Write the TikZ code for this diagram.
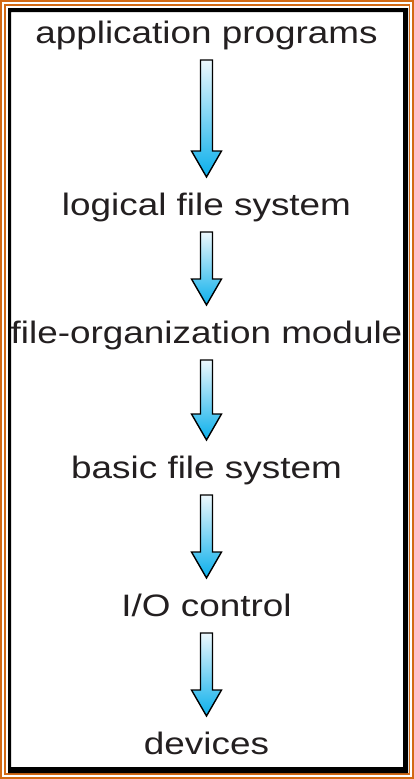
\documentclass[tikz,border=0pt]{standalone}
\usepackage{fontspec}
\newfontfamily\labelfont{Liberation Sans}[FakeStretch=1.19]
\usetikzlibrary{calc}
\definecolor{framecol}{RGB}{210,105,20}
\definecolor{arrowtop}{RGB}{236,248,253}
\definecolor{arrowbot}{RGB}{10,175,235}
\definecolor{textcol}{RGB}{35,31,32}

% block arrow from under one layer to above the next
\newcommand{\layerarrow}[2]{%
  \draw[line width=1.4pt, line join=miter, top color=arrowtop, bottom color=arrowbot]
    ($(#1.base)+(-6,17)$) -- ($(#2.base)+(-6,-64)$) -- ($(#2.base)+(-15,-64)$)
    -- ($(#2.base)+(0,-38)$) -- ($(#2.base)+(15,-64)$) -- ($(#2.base)+(6,-64)$)
    -- ($(#1.base)+(6,17)$) -- cycle;}

\begin{document}
\begin{tikzpicture}[
  x=1pt, y=-1pt,
  layer/.style={font=\labelfont\fontsize{31}{36}\selectfont, text=textcol,
    inner sep=0pt, anchor=base}
]
\useasboundingbox (0,0) rectangle (414,779);
% frame
\draw[framecol, line width=2pt] (1,1) rectangle (413,778);
\draw[framecol, line width=1.5pt] (5,5) rectangle (409.5,774);
\fill[black, even odd rule] (8,8) rectangle (408,773) (11,12) rectangle (403,767);

\node[layer] (app) at (206.5,43) {application programs};
\node[layer] (lfs) at (206.5,215) {logical file system};
\node[layer] (fom) at (206.5,343) {file-organization module};
\node[layer] (bfs) at (206.5,478) {basic file system};
\node[layer] (ioc) at (206.5,616) {I/O control};
\node[layer] (dev) at (206.5,754) {devices};

\foreach \a/\b in {app/lfs,lfs/fom,fom/bfs,bfs/ioc,ioc/dev}
  \layerarrow{\a}{\b};
\end{tikzpicture}
\end{document}
